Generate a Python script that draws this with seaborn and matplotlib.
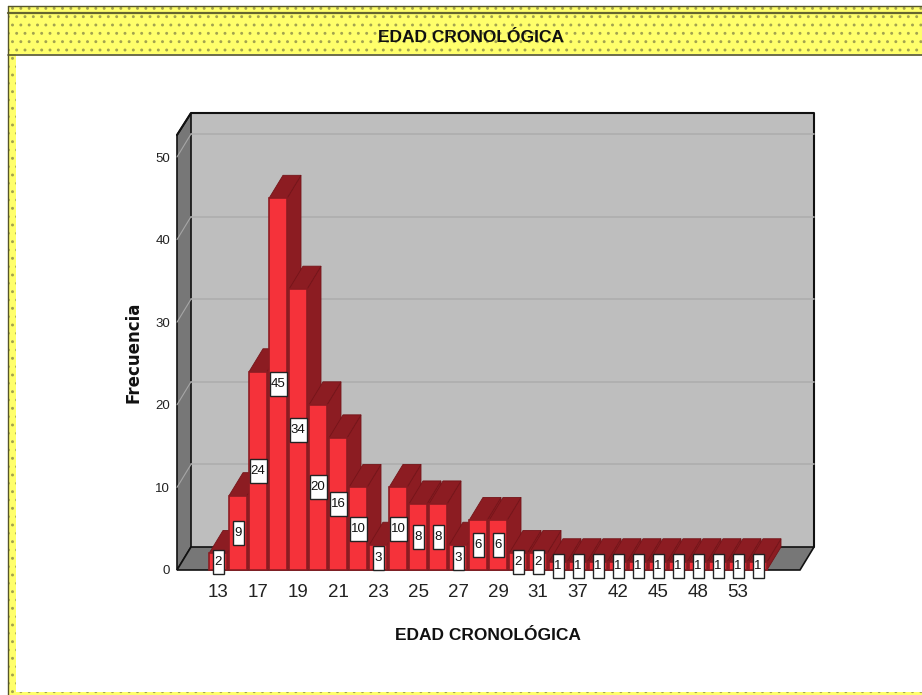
import matplotlib
matplotlib.use('Agg')
import matplotlib.pyplot as plt
from matplotlib.patches import Polygon, Rectangle
from matplotlib.transforms import IdentityTransform
import pandas as pd
import seaborn as sns

# Frequencies per bar, left to right
frecuencia = [2, 9, 24, 45, 34, 20, 16, 10, 3, 10, 8, 8, 3, 6, 6, 2, 2,
              1, 1, 1, 1, 1, 1, 1, 1, 1, 1, 1]
# Only every other category is labelled in the picture
etiquetas = ['13', '', '17', '', '19', '', '21', '', '23', '', '25', '', '27', '',
             '29', '', '31', '', '37', '', '42', '', '45', '', '48', '', '53', '']
y_ticks = [0, 10, 20, 30, 40, 50]

W, H = 922, 695
DX, DY = 14, 23    # depth of the 3d box in pixels
RED = '#F5323A'
DARK_RED = '#8C1C22'
WALL = '#BEBEBE'
SIDE = '#777777'
YELLOW = '#FFFF6B'

sns.set_theme(style='white', rc={'font.family': ['Liberation Sans', 'DejaVu Sans']})
fig = plt.figure(figsize=(W / 100, H / 100), dpi=100, facecolor='white')


def fx(px):
    return px / W


def fy(py):
    return 1 - py / H


def fig_poly(points, **kw):
    pts = [(fx(a), fy(b)) for a, b in points]
    fig.add_artist(Polygon(pts, closed=True, transform=fig.transFigure, zorder=-2, **kw))


def fig_line(xs, ys, **kw):
    fig.add_artist(plt.Line2D([fx(a) for a in xs], [fy(b) for b in ys],
                              transform=fig.transFigure, zorder=-1, **kw))


# yellow frame
plt.rcParams['hatch.linewidth'] = 0.9
for x0, y0, x1, y1 in [(8, 6, 922, 54), (8, 54, 16, 695), (16, 692, 922, 695)]:
    fig_poly([(x0, y0), (x1, y0), (x1, y1), (x0, y1)], facecolor=YELLOW,
             edgecolor='#A3A350', hatch='..', linewidth=0)
fig_line([8, 922], [6, 6], color='#55552A', lw=1)
fig_line([8, 922], [13, 13], color='#66662F', lw=1.6)
fig_line([8, 922], [54.5, 54.5], color='#55552A', lw=1.2)
fig_line([8, 8], [6, 695], color='#55552A', lw=1)

# 3d box behind the bars
L, R, T, B = 177, 800, 135, 570
fig_poly([(L + DX, T - 22), (R + DX, T - 22), (R + DX, B - DY), (L + DX, B - DY)],
         facecolor=WALL, edgecolor='none')
fig_poly([(L, T), (L + DX, T - 22), (L + DX, B - DY), (L, B)], facecolor=SIDE,
         edgecolor='#111111', linewidth=1.2)
fig_poly([(L, B), (L + DX, B - DY), (R + DX, B - DY), (R, B)], facecolor=SIDE,
         edgecolor='#111111', linewidth=1.2)
fig_line([L, L + DX, R + DX, R + DX], [T, T - 22, T - 22, B - DY], color='#111111', lw=1.5)

ax = fig.add_axes([fx(L), fy(B), fx(R - L), (B - T) / H])
ax.patch.set_alpha(0)

df = pd.DataFrame({'pos': range(len(frecuencia)), 'frecuencia': frecuencia})
sns.barplot(data=df, x='pos', y='frecuencia', color=RED, saturation=1, width=0.9,
            edgecolor=DARK_RED, linewidth=1.2, ax=ax)
ax.set_xlim((L - 218) / 20, (R - 218) / 20)
ymax = (B - T) / 8.26
ax.set_ylim(0, ymax)

# gridlines on the wall and the left side, placed from the y scale
for v in y_ticks[1:]:
    py = B - v / ymax * (B - T)
    fig_line([L + DX, R + DX], [py - DY, py - DY], color='#AEAEAE', lw=1.2)
    fig_line([L, L + DX], [py, py - DY], color='#A6A6A6', lw=0.8)

for s in ax.spines.values():
    s.set_visible(False)
ax.set_xticks(range(len(etiquetas)))
ax.set_xticklabels(etiquetas, fontsize=13.5, color='#222222')
ax.set_yticks(y_ticks)
ax.set_yticklabels([str(v) for v in y_ticks], fontsize=9.5, color='#222222')
ax.tick_params(axis='x', length=0, pad=10)
ax.tick_params(axis='y', length=0, pad=5)
ax.set_xlabel('EDAD CRONOLÓGICA', fontsize=12.5, fontweight='bold', color='#111111')
ax.set_ylabel('Frecuencia', fontsize=12, fontweight='bold', color='#111111',
              family=['DejaVu Sans'])
ax.xaxis.set_label_coords((488 - L) / (R - L), -(628 - B) / (B - T))
ax.yaxis.set_label_coords(-(L - 142) / (R - L), (B - 352) / (B - T))

# depth faces worked out from each bar's rectangle, left to right
bars = list(ax.containers[0])
for i, bar in enumerate(bars):
    x0, y0 = ax.transData.transform((bar.get_x(), 0))
    x1, y1 = ax.transData.transform((bar.get_x() + bar.get_width(), bar.get_height()))
    z = 3 + i * 0.01
    top = [(x0, y1), (x1, y1), (x1 + DX, y1 + DY), (x0 + DX, y1 + DY)]
    side = [(x1, y0), (x1 + DX, y0 + DY), (x1 + DX, y1 + DY), (x1, y1)]
    for pts in (side, top):
        ax.add_patch(Polygon(pts, closed=True, facecolor=DARK_RED, edgecolor='#741419',
                             linewidth=0.6, transform=IdentityTransform(),
                             clip_on=False, zorder=z))
    bar.set_zorder(z + 0.005)
    bar.set_clip_on(False)

    # value box
    cx = (x0 + x1) / 2
    cy = (y0 + y1) / 2
    bw = 17 if frecuencia[i] >= 10 else 11
    ax.add_patch(Rectangle((cx - bw / 2, cy - 12), bw, 24, facecolor='white', edgecolor='#222222',
                           linewidth=1, transform=IdentityTransform(), clip_on=False, zorder=10))

ax.bar_label(ax.containers[0], labels=[str(v) for v in frecuencia], label_type='center',
             fontsize=9.5, color='#111111', zorder=11, clip_on=False)

fig.text(fx(471), fy(37), 'EDAD CRONOLÓGICA', ha='center', va='center', fontsize=12.5,
         fontweight='bold', color='#111111')

fig.savefig('out.png', dpi=100)
